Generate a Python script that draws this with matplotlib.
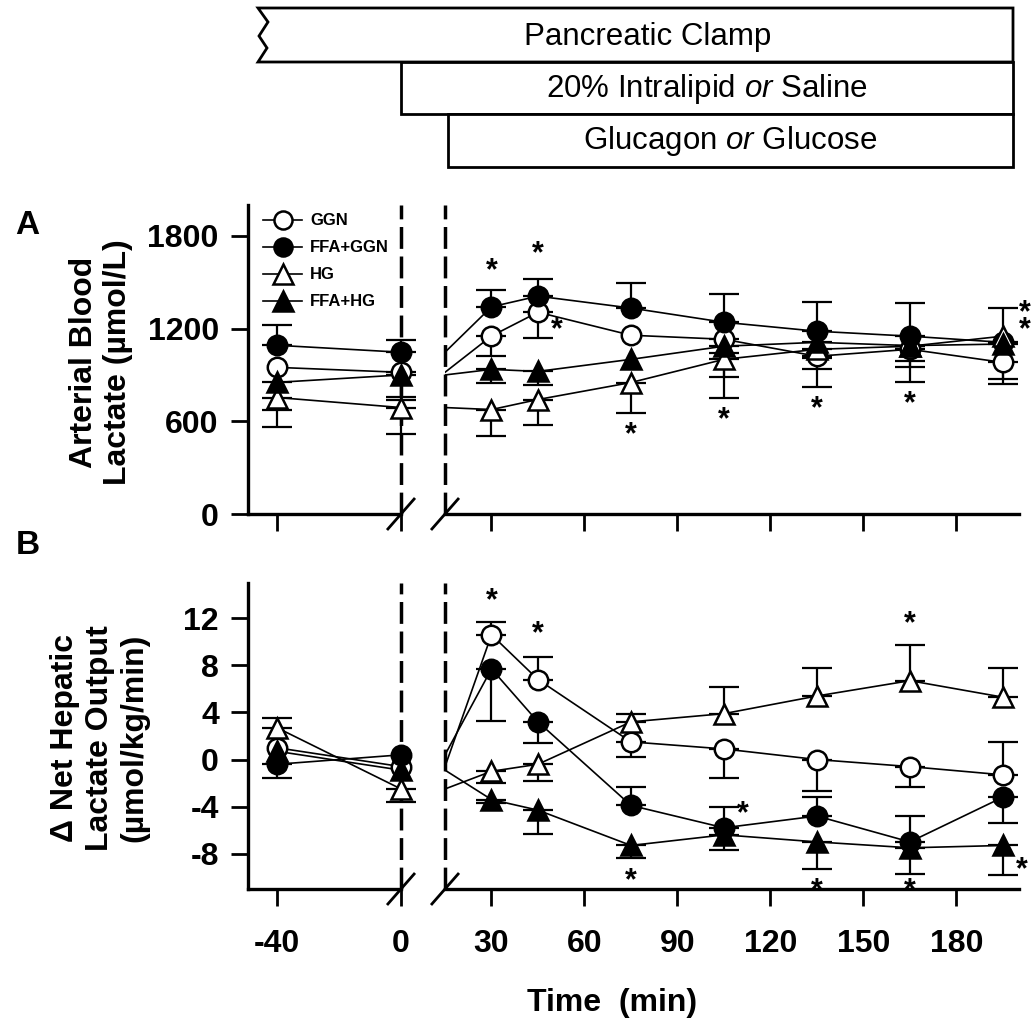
import numpy as np
import matplotlib.pyplot as plt
from matplotlib.patches import Polygon
from matplotlib.lines import Line2D

plt.rcParams['font.family'] = ['Liberation Sans', 'DejaVu Sans']
plt.rcParams['mathtext.fontset'] = 'custom'
plt.rcParams['mathtext.rm'] = 'Liberation Sans'
plt.rcParams['mathtext.it'] = 'Liberation Sans:italic'
plt.rcParams['axes.unicode_minus'] = False

# =====================================
# Data
# =====================================

times = np.array([-40, 0, 30, 45, 75, 105, 135, 165, 195])
groups = ["GGN", "FFA+GGN", "HG", "FFA+HG"]

# Panel A: arterial blood lactate (umol/L), mean and one-sided SEM
lac_ggn = [949, 917, 1152, 1306, 1157, 1131, 1021, 1066, 981]
lac_ggn_lo = [0, 176, 130, 170, 0, 90, 85, 117, 110]
lac_ggn_hi = [0, 0, 0, 0, 0, 0, 0, 0, 0]

lac_ffa_ggn = [1092, 1047, 1341, 1410, 1333, 1241, 1183, 1151, 1111]
lac_ffa_ggn_lo = [0, 0, 0, 0, 0, 0, 0, 0, 0]
lac_ffa_ggn_hi = [130, 78, 110, 111, 162, 182, 188, 214, 222]

lac_hg = [754, 689, 676, 741, 851, 1001, 1066, 1086, 1151]
lac_hg_lo = [188, 169, 169, 163, 195, 253, 247, 234, 0]
lac_hg_hi = [0, 0, 0, 0, 0, 0, 0, 0, 0]

lac_ffa_hg = [852, 900, 936, 923, 1001, 1086, 1111, 1090, 1100]
lac_ffa_hg_lo = [176, 140, 91, 91, 0, 200, 100, 100, 260]
lac_ffa_hg_hi = [0, 0, 0, 0, 0, 0, 0, 0, 0]

# Panel B: change in net hepatic lactate output (umol/kg/min)
nhlo_ggn = [1.0, -0.6, 10.6, 6.8, 1.5, 0.9, 0.0, -0.6, -1.3]
nhlo_ggn_lo = [0, 0, 0, 0, 1.3, 2.5, 2.7, 1.7, 0]
nhlo_ggn_hi = [0, 0, 1.1, 1.9, 0, 0, 0, 0, 2.8]

nhlo_ffa_ggn = [-0.4, 0.4, 7.7, 3.2, -3.9, -5.8, -4.8, -7.0, -3.2]
nhlo_ffa_ggn_lo = [1.2, 0, 4.4, 1.8, 0, 0, 0, 0, 2.2]
nhlo_ffa_ggn_hi = [0, 0, 0, 0, 1.6, 1.8, 1.6, 2.2, 0]

nhlo_hg = [2.7, -2.5, -1.0, -0.4, 3.2, 3.9, 5.4, 6.7, 5.3]
nhlo_hg_lo = [0, 1.1, 1.0, 1.4, 0, 0, 0, 0, 0]
nhlo_hg_hi = [0.8, 0, 0, 0, 0.7, 2.3, 2.4, 3.0, 2.5]

nhlo_ffa_hg = [0.7, -0.9, -3.4, -4.3, -7.3, -6.4, -7.0, -7.5, -7.3]
nhlo_ffa_hg_lo = [0, 0, 0.3, 2.0, 1.1, 1.3, 2.3, 2.2, 2.5]
nhlo_ffa_hg_hi = [0, 0, 0, 0, 0, 0, 0, 0, 0]

# significance marks (time, value, text)
stars_a = [(30, 1625, "*"), (45, 1735, "*"), (51, 1241, "*"),
           (75, 559, "*"), (105, 656, "*"), (135, 728, "*"),
           (165, 760, "*"), (202, 1241, "*\n*")]
stars_b = [(30, 14.1, "*"), (45, 11.3, "*"), (75, -9.7, "*"),
           (111, -4.0, "*"), (135, -10.5, "*"), (165, 12.2, "*"),
           (165, -10.5, "*"), (201, -8.7, "*")]

phases = ["Pancreatic Clamp", "20% Intralipid $\\it{or}$ Saline",
          "Glucagon $\\it{or}$ Glucose"]

# =====================================
# Layout (pixel boxes)
# =====================================

W, H = 1033, 1027
fig = plt.figure(figsize=(W / 100, H / 100), dpi=100)

bg = fig.add_axes([0, 0, 1, 1])
bg.set_xlim(0, W)
bg.set_ylim(H, 0)
bg.axis("off")


def px_axes(x0, y0, x1, y1):
    ax = fig.add_axes([x0 / W, 1 - y1 / H, (x1 - x0) / W, (y1 - y0) / H])
    ax.set_facecolor("none")
    return ax


L_END, R_START, R_END = 0, 15, 200.2
L_START = -49.4

axA_l = px_axes(248, 205, 401, 514)
axA_r = px_axes(445, 205, 1019, 514)
axB_l = px_axes(248, 583, 401, 889)
axB_r = px_axes(445, 583, 1019, 889)

styles = [
    dict(marker="o", ms=14, mfc="white"),
    dict(marker="o", ms=14, mfc="black"),
    dict(marker="^", ms=15, mfc="white"),
    dict(marker="^", ms=15, mfc="black"),
]

TICK_FS = 23


def draw_series(ax_l, ax_r, vals, lo, hi, st):
    vals = np.asarray(vals, float)
    lo = np.asarray(lo, float)
    hi = np.asarray(hi, float)
    zeros = np.zeros_like(vals)

    # left segment: -40 and 0
    # right segment: line from the break (value at 0) to the 30+ points
    parts = [(ax_l, slice(0, 2)), (ax_r, slice(2, None))]
    ax_r.plot(np.clip(times[1:], R_START, None), vals[1:], color="black",
              lw=1.2, zorder=2)
    ax_l.plot(times[:2], vals[:2], color="black", lw=1.2, zorder=2,
              clip_on=False)
    for ax, sl in parts:
        t, v, l, h = times[sl], vals[sl], lo[sl], hi[sl]
        for err, up in ((l, False), (h, True)):
            m = err > 0
            if m.any():
                yerr = [zeros[sl][m], err[m]] if up else [err[m], zeros[sl][m]]
                eb = ax.errorbar(t[m], v[m], yerr=yerr, fmt="none",
                                 ecolor="black", elinewidth=1.6, capsize=11,
                                 capthick=1.6, zorder=2.5)
                for a in eb.get_children():
                    a.set_clip_on(False)
        ax.plot(t, v, ls="none", marker=st["marker"], ms=st["ms"],
                mfc=st["mfc"], mec="black", mew=1.8, zorder=3,
                clip_on=False)


def style_axes(ax_l, ax_r, ylim, yticks, xlabels):
    for ax in (ax_l, ax_r):
        ax.set_ylim(*ylim)
        for s in ("top", "right"):
            ax.spines[s].set_visible(False)
        ax.spines["bottom"].set_linewidth(2.4)
        ax.spines["left"].set_linewidth(2.4)
        ax.tick_params(direction="out", length=12, width=2.0,
                       labelsize=TICK_FS, pad=9)
    ax_l.set_xlim(L_START, L_END)
    ax_r.set_xlim(R_START, R_END)
    ax_r.spines["left"].set_visible(False)
    ax_r.set_yticks([])
    ax_l.set_yticks(yticks)
    ax_l.set_xticks([-40, 0])
    ax_r.set_xticks([30, 60, 90, 120, 150, 180])
    for ax in (ax_l, ax_r):
        for lab in ax.get_xticklabels() + ax.get_yticklabels():
            lab.set_fontweight("bold")
        ax.tick_params(axis="x", pad=17)
        if not xlabels:
            ax.set_xticklabels([])
    dash = (0, (6.3, 2.2))
    ax_l.axvline(L_END, color="black", lw=2.5, ls=dash, clip_on=False,
                 zorder=1)
    ax_r.axvline(R_START, color="black", lw=2.5, ls=dash, clip_on=False,
                 zorder=1)


series_a = [(lac_ggn, lac_ggn_lo, lac_ggn_hi),
            (lac_ffa_ggn, lac_ffa_ggn_lo, lac_ffa_ggn_hi),
            (lac_hg, lac_hg_lo, lac_hg_hi),
            (lac_ffa_hg, lac_ffa_hg_lo, lac_ffa_hg_hi)]
series_b = [(nhlo_ggn, nhlo_ggn_lo, nhlo_ggn_hi),
            (nhlo_ffa_ggn, nhlo_ffa_ggn_lo, nhlo_ffa_ggn_hi),
            (nhlo_hg, nhlo_hg_lo, nhlo_hg_hi),
            (nhlo_ffa_hg, nhlo_ffa_hg_lo, nhlo_ffa_hg_hi)]

for (v, lo, hi), st in zip(series_a, styles):
    draw_series(axA_l, axA_r, v, lo, hi, st)
for (v, lo, hi), st in zip(series_b, styles):
    draw_series(axB_l, axB_r, v, lo, hi, st)

style_axes(axA_l, axA_r, (0, 2000), [0, 600, 1200, 1800], False)
style_axes(axB_l, axB_r, (-11, 15), [-8, -4, 0, 4, 8, 12], True)

# asterisks
for ax, stars in ((axA_r, stars_a), (axB_r, stars_b)):
    for t, v, s in stars:
        ax.annotate(s, (t, v), xytext=(0, -11.5), textcoords="offset points",
                    ha="center", va="baseline", fontsize=22,
                    fontweight="bold", linespacing=0.42,
                    annotation_clip=False)

# axis break slashes
for xb in (401, 445):
    for yb in (514, 889):
        bg.plot([xb - 14, xb + 14], [yb + 16, yb - 16], color="black",
                lw=2.0, solid_capstyle="butt")

# legend
handles = [Line2D([0], [0], color="black", lw=1.2, marker=st["marker"],
                  ms=st["ms"] - 1, mfc=st["mfc"], mec="black", mew=1.8)
           for st in styles]
axA_l.legend(handles, groups, loc="upper left",
             bbox_to_anchor=(255 / W, 1 - 205 / H),
             bbox_transform=fig.transFigure, frameon=False, borderpad=0,
             handlelength=2.3, handletextpad=0.5, labelspacing=0.72,
             prop=dict(weight="bold", size=12))

# labels
bg.text(27, 226, "A", fontsize=24, fontweight="bold", ha="center",
        va="center")
bg.text(28, 546, "B", fontsize=24, fontweight="bold", ha="center",
        va="center")
bg.text(101, 362, "Arterial Blood\nLactate (µmol/L)", rotation=90,
        fontsize=23, fontweight="bold", ha="center", va="center",
        multialignment="center", linespacing=1.2)
bg.text(100, 738, "\u0394 Net Hepatic\nLactate Output\n(µmol/kg/min)",
        rotation=90, fontsize=23, fontweight="bold", ha="center",
        va="center", multialignment="center", linespacing=1.2)
bg.text(612, 1003, "Time  (min)", fontsize=23, fontweight="bold",
        ha="center", va="center")

# protocol bars
lw_box = 2.0
clamp = [(258, 8), (1013, 8), (1013, 62), (258, 62), (267, 48), (259, 36),
         (268, 22)]
bg.add_patch(Polygon(clamp, closed=True, fc="white", ec="black", lw=lw_box))
bg.add_patch(Polygon([(401, 62), (1013, 62), (1013, 114), (401, 114)],
                     closed=True, fc="white", ec="black", lw=lw_box))
bg.add_patch(Polygon([(448, 114), (1013, 114), (1013, 167), (448, 167)],
                     closed=True, fc="white", ec="black", lw=lw_box))
for (cx, cy), txt in zip([(648, 37), (707, 89), (730, 141)], phases):
    bg.text(cx, cy, txt, fontsize=22.5, ha="center", va="center")

fig.savefig("out.png", dpi=100)
